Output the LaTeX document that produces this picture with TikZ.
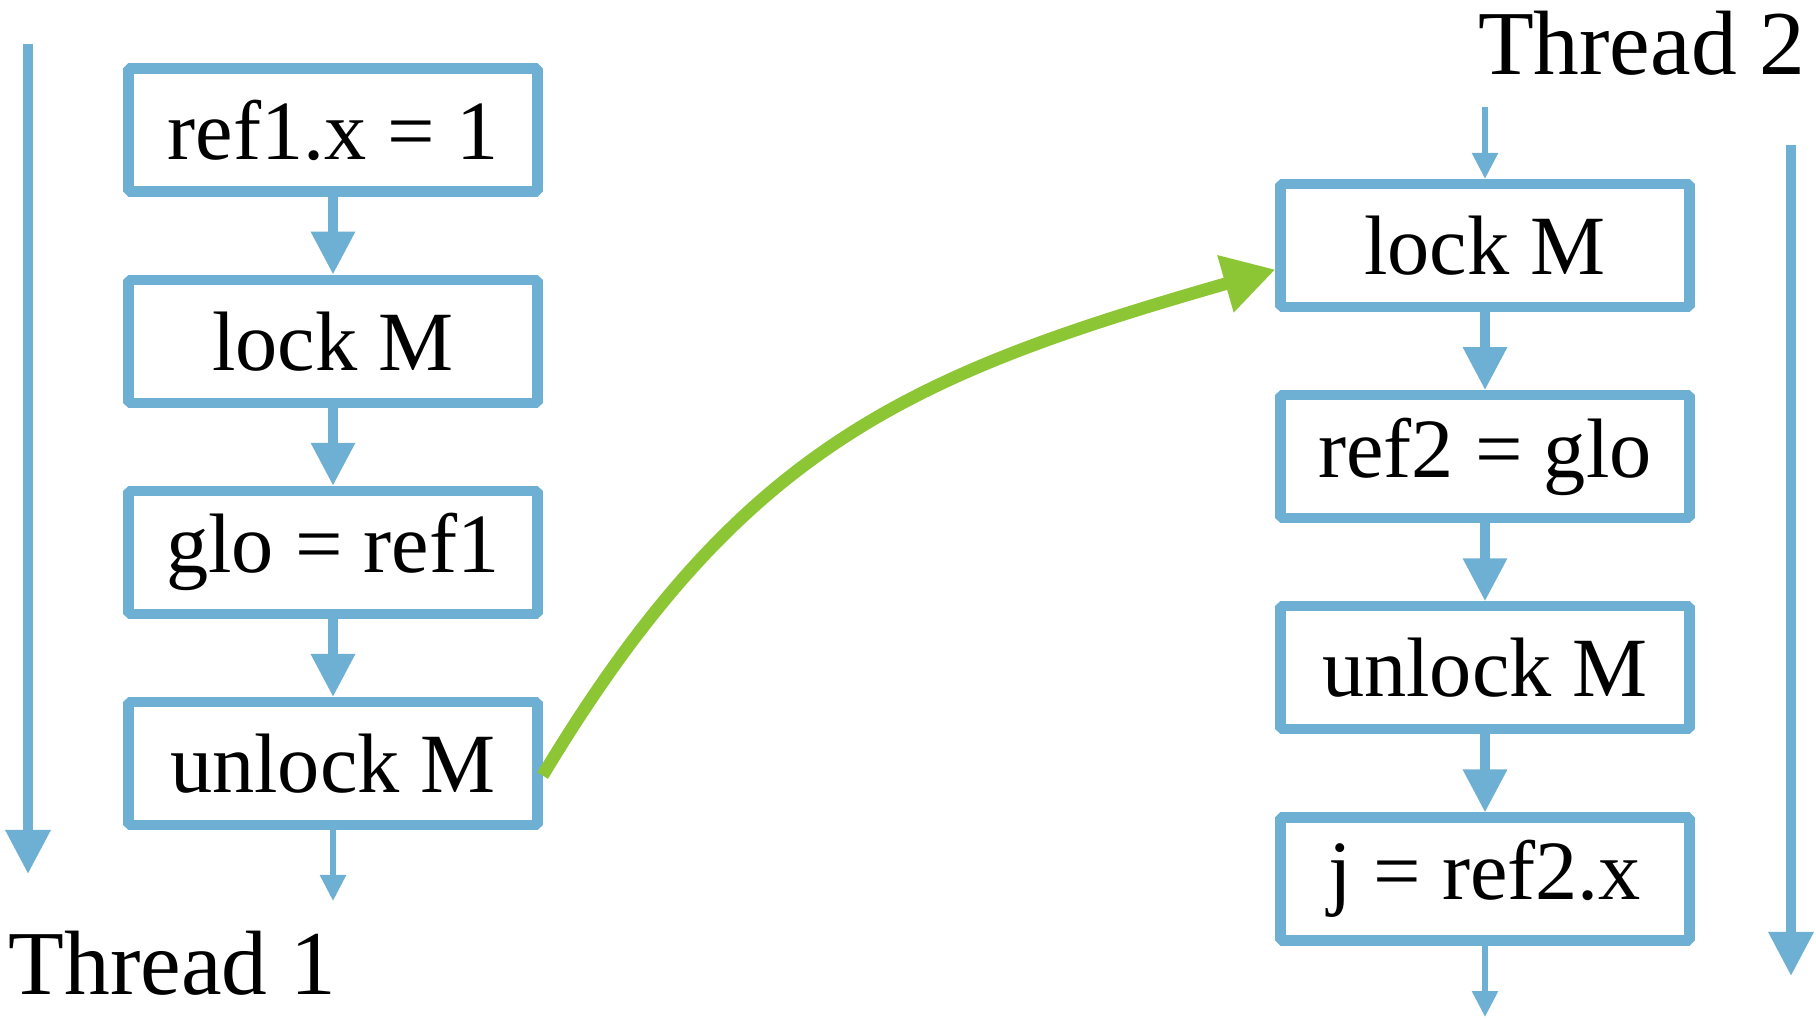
\documentclass[tikz,border=0pt]{standalone}
\usepackage{fontspec}
\setmainfont{Liberation Serif}
\usetikzlibrary{arrows.meta,positioning}
\definecolor{BoxClr}{RGB}{110,176,211}
\definecolor{SyncClr}{RGB}{141,198,52}

\begin{document}
\begin{tikzpicture}[
  stmt/.style={draw=BoxClr,line width=2.9pt,line join=bevel,fill=white,
    minimum width=4.09cm,minimum height=1.23cm,inner sep=0pt,
    font=\fontsize{24}{28}\selectfont},
  flow/.style={draw=BoxClr,line width=2.7pt,-{Triangle[length=0.43cm,width=0.42cm]}},
  thinflow/.style={draw=BoxClr,line width=1.6pt,-{Triangle[length=0.26cm,width=0.25cm]}},
  timeline/.style={draw=BoxClr,line width=2.7pt,-{Triangle[length=0.44cm,width=0.43cm]}},
  sync/.style={draw=SyncClr,line width=3.6pt,-{Triangle[length=0.52cm,width=0.56cm]}},
  threadname/.style={inner sep=0pt,font=\fontsize{26}{30}\selectfont}
]
\useasboundingbox (0,0) rectangle (18.16,-10.20);

\node[stmt] (t1a) at (3.33,-1.30) {ref1.x = 1};
\node[stmt,below=0.78cm of t1a] (t1b) {lock M};
\node[stmt,below=0.78cm of t1b] (t1c) {glo = ref1};
\node[stmt,below=0.78cm of t1c] (t1d) {unlock M};

\node[stmt] (t2a) at (14.85,-2.455) {lock M};
\node[stmt,below=0.78cm of t2a] (t2b) {ref2 = glo};
\node[stmt,below=0.78cm of t2b] (t2c) {unlock M};
\node[stmt,below=0.78cm of t2c] (t2d) {j = ref2.x};

\foreach \a/\b in {t1a/t1b,t1b/t1c,t1c/t1d,t2a/t2b,t2b/t2c,t2c/t2d}
  \draw[flow] (\a.south) -- (\b.north);

\coordinate (t1out) at (3.33,-9.01);
\coordinate (t2in) at (14.85,-1.07);
\coordinate (t2out) at (14.85,-10.17);
\draw[thinflow] (t1d.south) -- (t1out);
\draw[thinflow] (t2in) -- (t2a.north);
\draw[thinflow] (t2d.south) -- (t2out);

\coordinate (t1top) at (0.28,-0.44);
\coordinate (t1end) at (0.28,-8.74);
\coordinate (t2top) at (17.91,-1.45);
\coordinate (t2end) at (17.91,-9.76);
\draw[timeline] (t1top) -- (t1end);
\draw[timeline] (t2top) -- (t2end);

\node[threadname,anchor=base west] (t1name) at (0.08,-9.94) {Thread 1};
\node[threadname,anchor=base east] (t2name) at (18.06,-0.75) {Thread 2};

\draw[sync] ([yshift=-0.12cm]t1d.east) to[out=59,in=196,looseness=1.1] ([yshift=-0.24cm]t2a.west);

\end{tikzpicture}
\end{document}
